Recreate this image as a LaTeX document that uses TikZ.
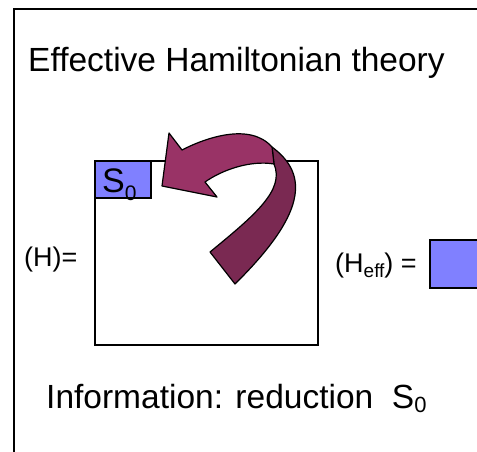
\documentclass[tikz,border=0pt]{standalone}
\usepackage{fontspec}
\setmainfont{Liberation Sans}
\usetikzlibrary{positioning}
\definecolor{plum}{RGB}{153,51,102}
\definecolor{plumdark}{RGB}{122,41,82}
\definecolor{lilac}{RGB}{128,128,255}
% lowered index: size, drop, text
\newcommand{\lowidx}[3]{\raisebox{-#2pt}{\fontsize{#1}{#1}\selectfont #3}}

\begin{document}
\begin{tikzpicture}[x=1pt, y=-1pt,
  every node/.style={inner sep=0pt},
  matbox/.style={draw, line width=1.5pt, anchor=north west},
  big/.style={font=\fontsize{33.5}{40}\selectfont},
  mid/.style={font=\fontsize{27}{32}\selectfont}]
  \useasboundingbox (0,0) rectangle (477,451);
  \clip (0,0) rectangle (477,451);

  % Frame
  \draw[line width=1.2pt] (14,470) -- (14,9) -- (490,9);

  % Title
  \node[big, anchor=base west] (title) at (28,71) {Effective Hamiltonian theory};

  % Matrices
  \node[matbox, fill=white, minimum width=223pt, minimum height=184pt] (H) at (94,160) {};
  \node[matbox, fill=lilac, minimum width=56pt, minimum height=37pt] (S) at (H.north west) {};
  \node[font=\fontsize{34}{40}\selectfont, anchor=base west] (Slabel) at (102,192) {S\lowidx{21}{8}{0}};
  \node[matbox, fill=lilac, minimum width=60pt, minimum height=48pt] (Heff) at (429,239) {};

  % Arrow
  \filldraw[fill=plumdark, line width=1.2pt, line join=round]
    (272,147) .. controls (310,175) and (305,215) .. (235,284) -- (210,252)
    .. controls (255,215) and (285,190) .. (274,164) -- cycle;
  \filldraw[fill=plum, line width=1.2pt, line join=round]
    (162,186) -- (169,133) -- (182,150) .. controls (205,138) and (250,122) .. (272,147)
    -- (274,164) .. controls (250,160) and (222,170) .. (205,182) -- (217,197) -- cycle;

  % Labels
  \node[mid, anchor=base west] (Hlabel) at (24,266) {(H)=};
  \node[mid, anchor=base west] (Hefflabel) at (335,272) {(H\lowidx{19}{5}{eff}) =};
  \node[big, anchor=base west] (info) at (46,408) {Information: reduction\ \ S\lowidx{22}{4}{0}};
\end{tikzpicture}
\end{document}
